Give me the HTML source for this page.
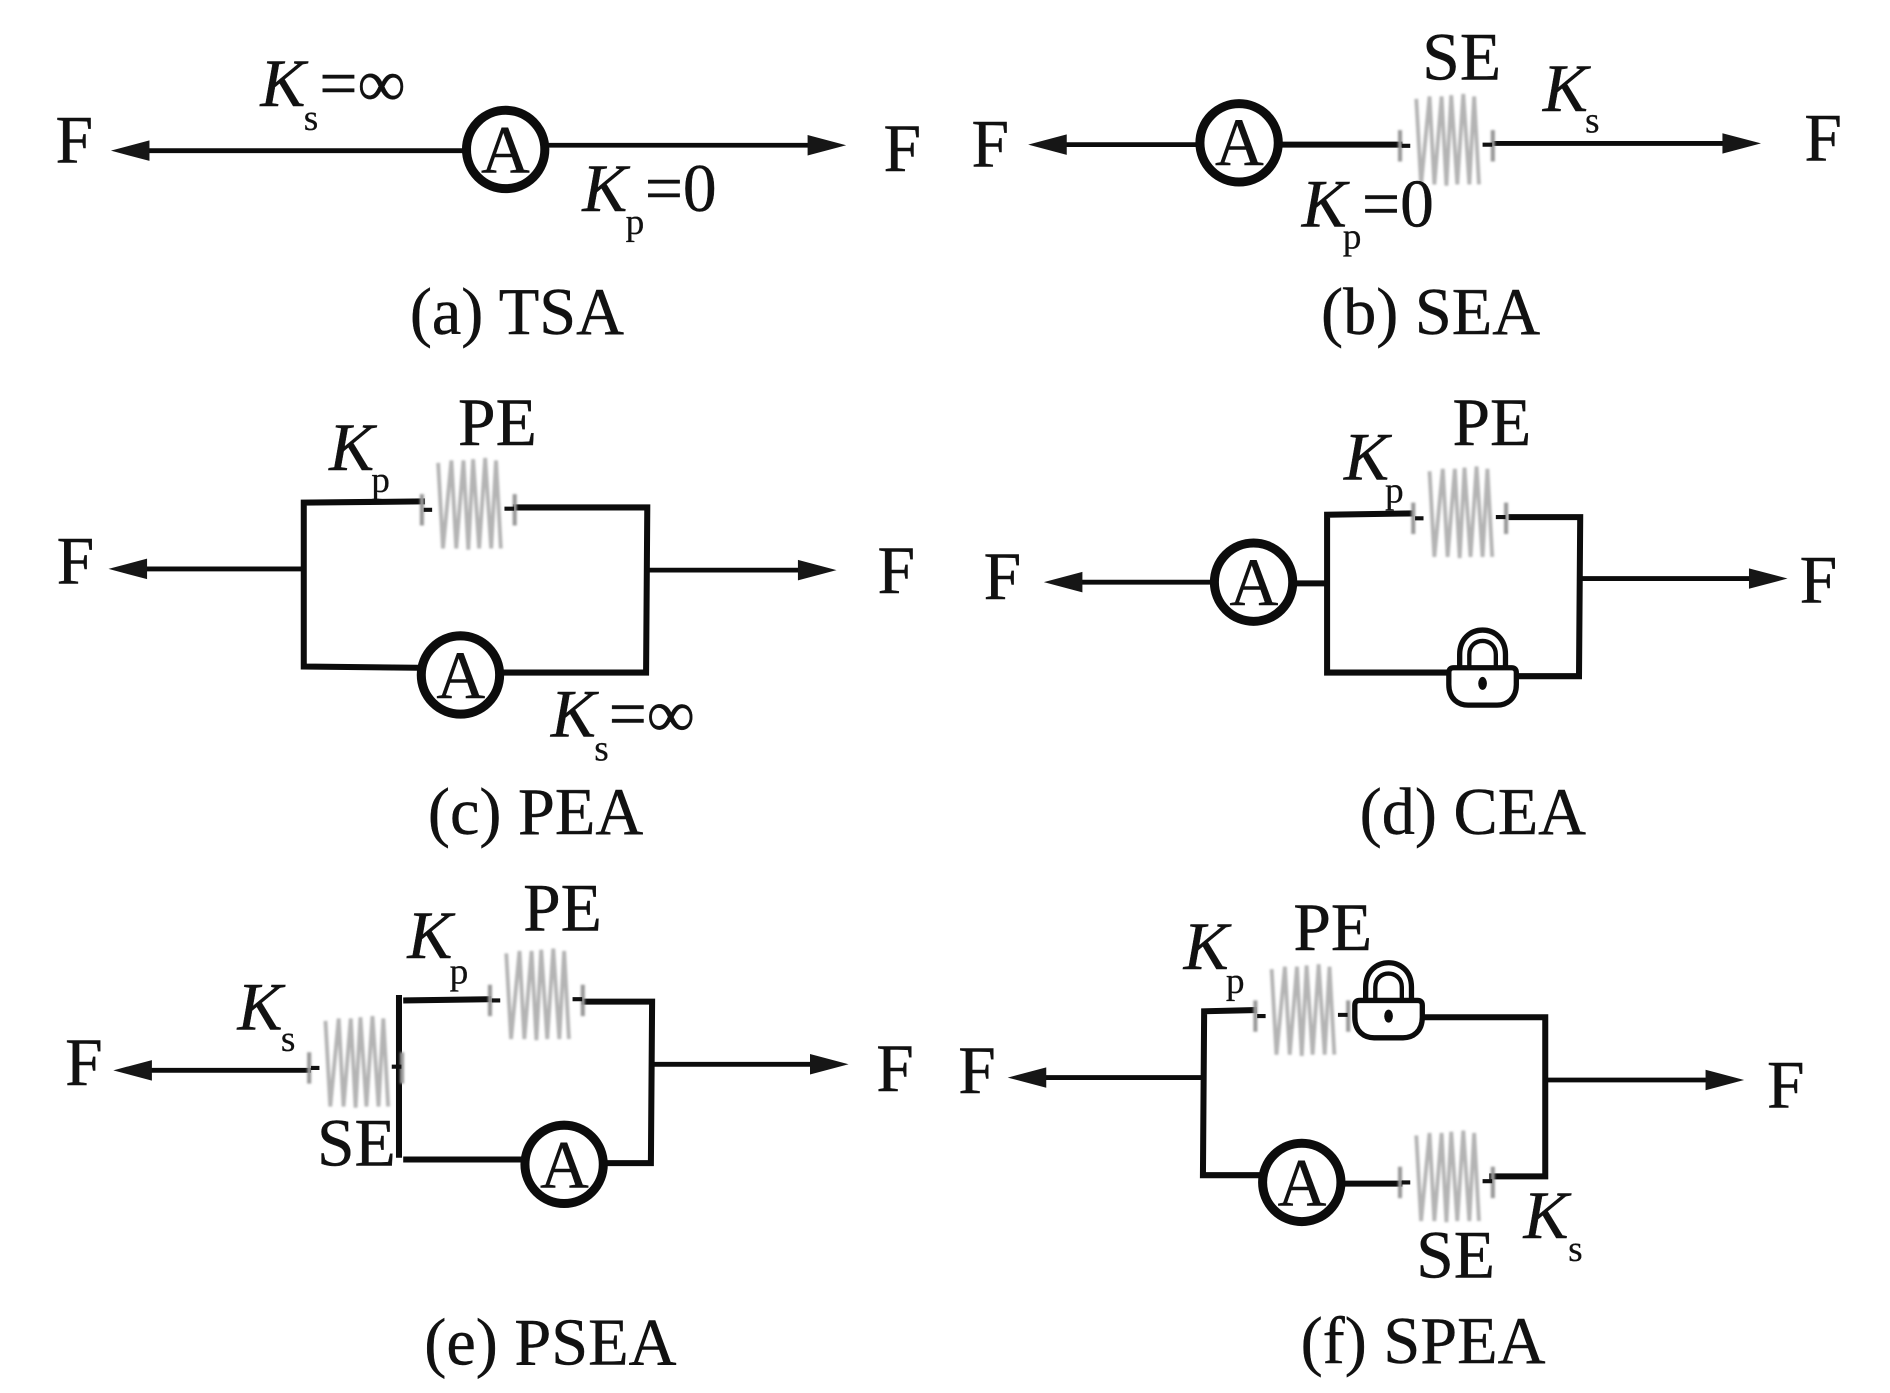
<!DOCTYPE html>
<html lang="en">
<head>
<meta charset="utf-8">
<title>Actuator configurations</title>
<style>
html,body{margin:0;padding:0;background:#fff}
svg{display:block}
text{font-family:"Liberation Serif",serif;font-size:56px;fill:#111;stroke:#111;stroke-width:.35}
.i{font-style:italic}
.sub{font-size:31px;stroke-width:.2}
.cap{font-size:55px}
.w{fill:none;stroke:#0c0c0c;stroke-width:4;stroke-linecap:square}
.t{fill:none;stroke:#0c0c0c;stroke-width:5;stroke-linecap:square}
.c{fill:#fff;stroke:#0c0c0c;stroke-width:7.5}
.h{fill:#161616}
</style>
</head>
<body>
<svg xmlns="http://www.w3.org/2000/svg" width="1890" height="1393" viewBox="0 0 1568 1155.700">
<defs>
<filter id="b" x="-20%" y="-20%" width="140%" height="140%"><feGaussianBlur stdDeviation="0.9"/></filter>
<g id="spring">
  <g filter="url(#b)">
    <polyline fill="none" stroke="#b4b4b4" stroke-width="3.2" points="-25,-34 -21,37 -14,-36 -10,37 -4,-36 0,38 4,-37 9,37 14,-38 19,37 23,-36 27,37"/>
    <path d="M-38.5 -8V18M38.5 -8V18" stroke="#989898" stroke-width="3.4" fill="none"/>
  </g>
  <path d="M-37 5H-30M30 4H38" stroke="#111" stroke-width="3.4" fill="none"/>
</g>
<g id="lock">
  <path d="M-19 6V-9C-19 -36 19 -36 19 -9V6" fill="none" stroke="#0c0c0c" stroke-width="4.4"/>
  <path d="M-11 6V-9C-11 -24 11 -24 11 -9V6" fill="none" stroke="#0c0c0c" stroke-width="3.6"/>
  <path d="M-24 2H24Q28 2 28 6V16C28 28 20 33 12 33H-12C-20 33 -28 28 -28 16V6Q-28 2 -24 2Z" fill="#fff" stroke="#0c0c0c" stroke-width="4.4"/>
  <ellipse cx="0" cy="15" rx="3.6" ry="5.400" fill="#0c0c0c"/>
</g>
</defs>
<rect width="1568" height="1155.700" fill="#fff"/>

<!-- (a) TSA -->
<path class="w" d="M122 125H384M456 120.500H672"/>
<polygon class="h" points="92,125 124,116.500 124,133.500"/>
<polygon class="h" points="702,120.500 670,112 670,129"/>
<circle class="c" cx="419.500" cy="124" r="32.500"/>
<text x="399" y="143">A</text>
<text x="46" y="135">F</text>
<text x="733" y="142">F</text>
<text class="i" x="216" y="88">K</text><text class="sub" x="252" y="108">s</text><text x="265" y="88">=∞</text>
<text class="i" x="483" y="175">K</text><text class="sub" x="519" y="194">p</text><text x="535" y="175">=0</text>
<text class="cap" x="340" y="277">(a) TSA</text>

<!-- (b) SEA -->
<path class="w" d="M882 120H992M1240 119H1428"/>
<path class="t" d="M1064 120H1161"/>
<polygon class="h" points="853,120 885,111.500 885,128.500"/>
<polygon class="h" points="1461,119 1429,110.500 1429,127.500"/>
<circle class="c" cx="1028" cy="118.500" r="32.500"/>
<text x="1008" y="137">A</text>
<use href="#spring" x="1200" y="116"/>
<text x="806" y="138">F</text>
<text x="1497" y="133">F</text>
<text x="1180" y="66">SE</text>
<text class="i" x="1280" y="92">K</text><text class="sub" x="1315" y="110">s</text>
<text class="i" x="1080" y="188">K</text><text class="sub" x="1114" y="206">p</text><text x="1130" y="188">=0</text>
<text class="cap" x="1096" y="277">(b) SEA</text>

<!-- (c) PEA -->
<path class="w" d="M122 472H250M539 473H664"/>
<polygon class="h" points="90,472 122,463.500 122,480.500"/>
<polygon class="h" points="694,473 662,464.500 662,481.500"/>
<path class="t" d="M350 416L252 417V553L346 554M428 421H537L536 558L419 558"/>
<circle class="c" cx="382" cy="560" r="32.500"/>
<text x="362" y="579">A</text>
<use href="#spring" x="388.500" y="418"/>
<text x="47" y="484">F</text>
<text x="728" y="492">F</text>
<text x="380" y="369">PE</text>
<text class="i" x="273" y="390">K</text><text class="sub" x="308" y="408">p</text>
<text class="i" x="457" y="611">K</text><text class="sub" x="493" y="631">s</text><text x="505" y="611">=∞</text>
<text class="cap" x="355" y="692">(c) PEA</text>

<!-- (d) CEA -->
<path class="w" d="M898 483H1006M1313 480H1453"/>
<polygon class="h" points="866,483 898,474.500 898,491.500"/>
<polygon class="h" points="1483,480 1451,471.500 1451,488.500"/>
<path class="t" d="M1075 484H1101M1170 426L1101 427V558H1202M1254 429H1311L1310 561H1258"/>
<circle class="c" cx="1040" cy="483" r="32.500"/>
<text x="1020" y="502">A</text>
<use href="#spring" x="1211" y="425"/>
<use href="#lock" x="1230" y="552"/>
<text x="816" y="497">F</text>
<text x="1493" y="500">F</text>
<text x="1205" y="369">PE</text>
<text class="i" x="1115" y="398">K</text><text class="sub" x="1149" y="417">p</text>
<text class="cap" x="1128" y="692">(d) CEA</text>

<!-- (e) PSEA -->
<path class="w" d="M126 888H256M543 883H674"/>
<polygon class="h" points="94,888 126,879.500 126,896.500"/>
<polygon class="h" points="704,883 672,874.500 672,891.500"/>
<path class="t" d="M331 828V958M337 830L405 829M485 831H541L540 965H505M337 962H434"/>
<circle class="c" cx="468" cy="966" r="32.500"/>
<text x="448" y="985">A</text>
<use href="#spring" x="445" y="825"/>
<use href="#spring" x="295" y="881"/>
<text x="54" y="900">F</text>
<text x="727" y="905">F</text>
<text x="434" y="772">PE</text>
<text class="i" x="338" y="795">K</text><text class="sub" x="373" y="816">p</text>
<text class="i" x="197" y="854">K</text><text class="sub" x="233" y="872">s</text>
<text x="263" y="967">SE</text>
<text class="cap" x="352" y="1132">(e) PSEA</text>

<!-- (f) SPEA -->
<path class="w" d="M868 894H998M1283 896H1417"/>
<polygon class="h" points="836,894 868,885.500 868,902.500"/>
<polygon class="h" points="1447,896 1415,887.500 1415,904.500"/>
<path class="t" d="M1040 838L999 839L998 975H1046M1112 982H1161M1238 976H1282L1282 844H1182"/>
<circle class="c" cx="1080" cy="981" r="32.500"/>
<text x="1060" y="1000">A</text>
<use href="#spring" x="1080" y="838"/>
<use href="#spring" x="1200" y="976"/>
<use href="#lock" x="1152" y="828"/>
<text x="795" y="907">F</text>
<text x="1466" y="919">F</text>
<text x="1073" y="788">PE</text>
<text class="i" x="982" y="804">K</text><text class="sub" x="1017" y="824">p</text>
<text class="i" x="1264" y="1027">K</text><text class="sub" x="1301" y="1046">s</text>
<text x="1175" y="1060">SE</text>
<text class="cap" x="1079" y="1131">(f) SPEA</text>
</svg>
</body>
</html>
